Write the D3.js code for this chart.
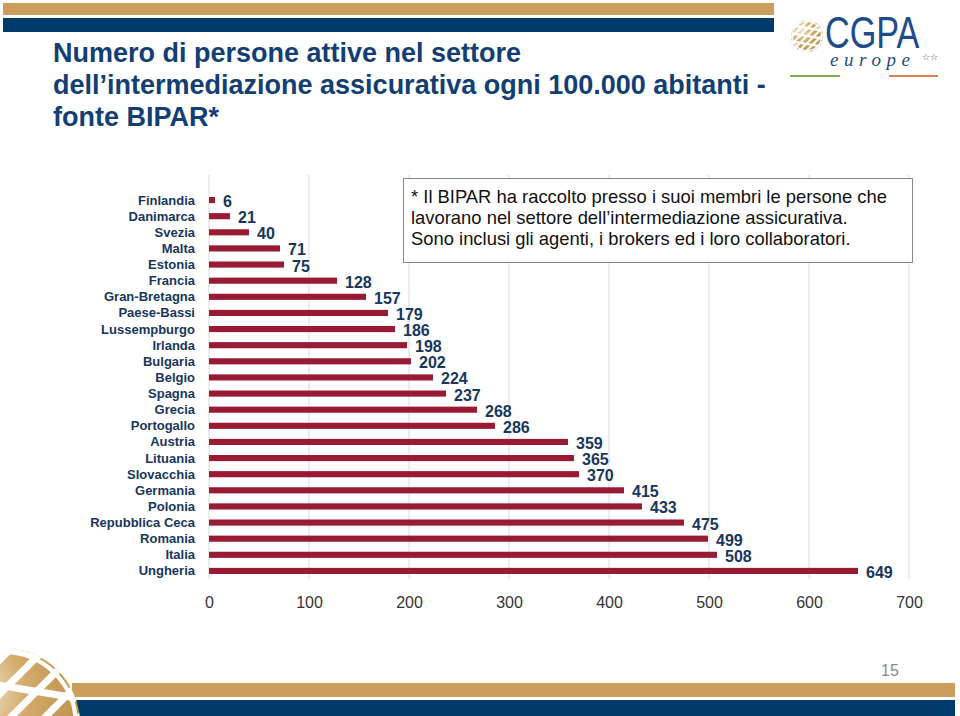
<!DOCTYPE html>
<html><head><meta charset="utf-8">
<script src="https://cdn.jsdelivr.net/npm/d3@7"></script>
<style>html,body{margin:0;padding:0;background:#fff;}svg{display:block;font-family:"Liberation Sans",Arial,sans-serif;}</style>
</head><body>
<script>
const categories = ["Finlandia","Danimarca","Svezia","Malta","Estonia","Francia","Gran-Bretagna","Paese-Bassi","Lussempburgo","Irlanda","Bulgaria","Belgio","Spagna","Grecia","Portogallo","Austria","Lituania","Slovacchia","Germania","Polonia","Repubblica Ceca","Romania","Italia","Ungheria"];
const values = [6,21,40,71,75,128,157,179,186,198,202,224,237,268,286,359,365,370,415,433,475,499,508,649];
const xTicks = [0,100,200,300,400,500,600,700];
const titleLines = ["Numero di persone attive nel settore","dell\u2019intermediazione assicurativa ogni 100.000 abitanti -","fonte BIPAR*"];
const noteLines = ["* Il BIPAR ha raccolto presso i suoi membri le persone che","lavorano nel settore dell\u2019intermediazione assicurativa.","Sono inclusi gli agenti, i brokers ed i loro collaboratori."];
const pageNumber = "15";

const W=960,H=716;
const GOLD="#CB9F5B", NAVY="#003A6B", BAR="#981B33", LABEL="#17365D";
const svg=d3.select("body").append("svg").attr("width",W).attr("height",H);
const defs=svg.append("defs");

// header bars
svg.append("rect").attr("x",3).attr("y",3).attr("width",771).attr("height",12).attr("fill",GOLD);
svg.append("rect").attr("x",3).attr("y",18).attr("width",771).attr("height",14).attr("fill",NAVY);

// footer bars
svg.append("rect").attr("x",72).attr("y",683).attr("width",883).attr("height",14).attr("fill",GOLD);
svg.append("rect").attr("x",72).attr("y",700).attr("width",883).attr("height",16).attr("fill",NAVY);

// globe helper
const rg=defs.append("radialGradient").attr("id","gl").attr("cx","30%").attr("cy","30%").attr("r","80%");
rg.append("stop").attr("offset","0%").attr("stop-color","#f4e8d4");
rg.append("stop").attr("offset","45%").attr("stop-color","#d3aa6a");
rg.append("stop").attr("offset","100%").attr("stop-color","#b98a45");
function globe(g,cx,cy,r,id,sw){
  defs.append("clipPath").attr("id",id).append("circle").attr("cx",cx).attr("cy",cy).attr("r",r);
  g.append("circle").attr("cx",cx).attr("cy",cy).attr("r",r).attr("fill","url(#gl)");
  const gg=g.append("g").attr("clip-path",`url(#${id})`);
  for(let k=-4;k<=4;k++){
    gg.append("line").attr("x1",cx-r*1.5+k*r*0.45).attr("y1",cy+r*1.5).attr("x2",cx+r*1.5+k*r*0.45).attr("y2",cy-r*1.5)
      .attr("stroke","#fff").attr("stroke-width",sw);
  }
  for(let k=-3;k<=3;k++){
    gg.append("line").attr("x1",cx-r*1.5).attr("y1",cy+k*r*0.5-r*0.25).attr("x2",cx+r*1.5).attr("y2",cy+k*r*0.5+r*0.25)
      .attr("stroke","#fff").attr("stroke-width",sw);
  }
  g.append("circle").attr("cx",cx).attr("cy",cy).attr("r",r-sw*0.6).attr("fill","none").attr("stroke","#fff").attr("stroke-width",sw*0.6);
}
globe(svg.append("g"),4,724,76,"cg1",7);

// logo
const logo=svg.append("g");
globe(logo,807,36,16,"cg2",2.2);
logo.append("g").attr("transform","translate(825,48) scale(0.778,1)")
  .append("text").attr("x",0).attr("y",0).attr("font-size",44).attr("fill","#1E4B8A").text("CGPA");
logo.append("text").attr("x",830).attr("y",66).attr("font-size",19).attr("font-style","italic")
  .attr("font-family","'Liberation Serif','DejaVu Serif',serif").attr("fill","#1E4B8A")
  .attr("textLength",80).attr("lengthAdjust","spacing").text("europe");
logo.append("text").attr("x",922).attr("y",60).attr("font-size",9).attr("fill","#1E4B8A").text("\u2606\u2606");
logo.append("line").attr("x1",790).attr("x2",840).attr("y1",76).attr("y2",76).attr("stroke","#7DB04A").attr("stroke-width",2);
logo.append("line").attr("x1",889).attr("x2",938).attr("y1",76).attr("y2",76).attr("stroke","#D9804A").attr("stroke-width",2);

// title
svg.append("g").selectAll("text").data(titleLines).join("text")
  .attr("x",53).attr("y",(d,i)=>62+i*32).attr("font-size",27).attr("font-weight","bold").attr("fill","#123E74").text(d=>d);

// chart
const x=d3.scaleLinear().domain([0,700]).range([209,909]);
const y=d3.scaleBand().domain(categories).range([192,579]).paddingInner(0.62).paddingOuter(0.31);

const grid=svg.append("g");
grid.selectAll("line").data(xTicks).join("line")
  .attr("x1",d=>x(d)).attr("x2",d=>x(d)).attr("y1",175).attr("y2",579)
  .attr("stroke","#d9d9d9").attr("stroke-width",1);

svg.append("g").selectAll("rect").data(values).join("rect")
  .attr("x",x(0)).attr("y",(d,i)=>y(categories[i])).attr("width",d=>x(d)-x(0)).attr("height",y.bandwidth()).attr("fill",BAR);

svg.append("g").selectAll("text").data(values).join("text")
  .attr("x",d=>x(d)+8).attr("y",(d,i)=>y(categories[i])+y.bandwidth()/2+7)
  .attr("font-size",16).attr("font-weight","bold").attr("fill",LABEL).text(d=>d);

svg.append("g").selectAll("text").data(categories).join("text")
  .attr("x",195).attr("y",d=>y(d)+y.bandwidth()/2+4.5).attr("text-anchor","end")
  .attr("font-size",13).attr("font-weight","bold").attr("fill",LABEL).text(d=>d);

const xAxis=svg.append("g").attr("transform","translate(0,597)")
  .call(d3.axisBottom(x).tickValues(xTicks).tickSize(0).tickPadding(0));
xAxis.select(".domain").remove();
xAxis.selectAll("text").attr("font-size",16).attr("fill","#333").attr("font-family","'Liberation Sans',Arial,sans-serif").attr("dy","0.71em");

// note box
svg.append("rect").attr("x",403.5).attr("y",178.5).attr("width",509).attr("height",84).attr("fill","#fff").attr("stroke","#888").attr("stroke-width",1);
svg.append("g").selectAll("text").data(noteLines).join("text")
  .attr("x",411).attr("y",(d,i)=>203+i*21).attr("font-size",18.4).attr("fill","#111").text(d=>d);

// page number
svg.append("text").attr("x",890).attr("y",676).attr("text-anchor","middle").attr("font-size",16).attr("fill","#888").text(pageNumber);
</script>
</body></html>
